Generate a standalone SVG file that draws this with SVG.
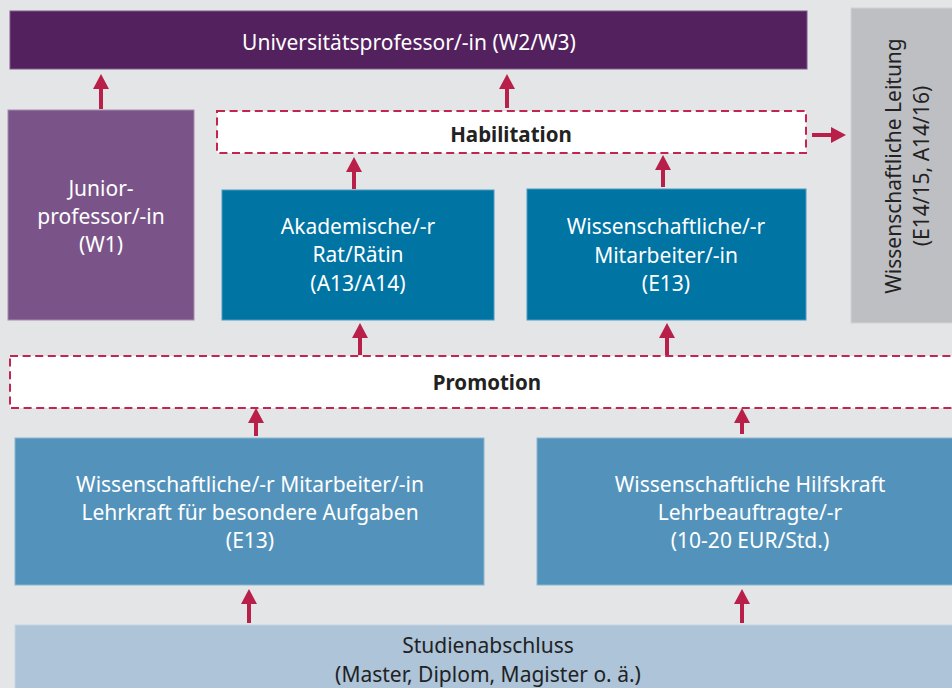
<svg xmlns="http://www.w3.org/2000/svg" width="952" height="688" viewBox="0 0 952 688">
  <style>
    .lbl { font-family: "Noto Sans", "Open Sans", sans-serif; font-size: 21px; text-anchor: middle; }
    .w { fill: #ffffff; }
    .d { fill: #222222; }
    .b { font-weight: bold; font-size: 20.5px; }
    .dash { fill: #ffffff; stroke: #c0264f; stroke-width: 2; stroke-dasharray: 8 4.6; }
    .arr { stroke: #b8204a; stroke-width: 4; fill: none; marker-end: url(#head); }
  </style>
  <defs>
    <marker id="head" viewBox="0 0 15 16" refX="3" refY="8" markerWidth="15" markerHeight="16" markerUnits="userSpaceOnUse" orient="auto">
      <path d="M0,0 L15,8 L0,16 z" fill="#b8204a"/>
    </marker>
  </defs>

  <rect width="952" height="688" fill="#e4e5e7"/>

  <g id="universitaetsprofessor">
    <rect x="10" y="11" width="797" height="58" fill="#54215f" stroke="#7d5a88" stroke-width="1"/>
    <text class="lbl w" x="409" y="50">Universitätsprofessor/-in (W2/W3)</text>
  </g>

  <g id="juniorprofessor">
    <rect x="8" y="110" width="186" height="210" fill="#7a5488" stroke="#a48cae" stroke-width="1"/>
    <text class="lbl w" x="101" y="196">Junior-</text>
    <text class="lbl w" x="101" y="224">professor/-in</text>
    <text class="lbl w" x="101" y="252">(W1)</text>
  </g>

  <g id="habilitation">
    <rect class="dash" x="217" y="111" width="589" height="42"/>
    <text class="lbl d b" x="511" y="142">Habilitation</text>
  </g>

  <g id="wissenschaftliche-leitung">
    <rect x="851" y="8" width="110" height="315" fill="#bebfc2" stroke="#d2d3d5" stroke-width="1"/>
    <g transform="translate(901,166) rotate(-90)">
      <text class="lbl d" x="0" y="0">Wissenschaftliche Leitung</text>
      <text class="lbl d" x="0" y="28">(E14/15, A14/16)</text>
    </g>
  </g>

  <g id="akademischer-rat">
    <rect x="222" y="190" width="272" height="130" fill="#0074a3" stroke="#4a9bc2" stroke-width="1"/>
    <text class="lbl w" x="358" y="234">Akademische/-r</text>
    <text class="lbl w" x="358" y="262">Rat/Rätin</text>
    <text class="lbl w" x="358" y="291">(A13/A14)</text>
  </g>

  <g id="wiss-mitarbeiter-e13">
    <rect x="527" y="189" width="279" height="131" fill="#0074a3" stroke="#4a9bc2" stroke-width="1"/>
    <text class="lbl w" x="666" y="234">Wissenschaftliche/-r</text>
    <text class="lbl w" x="666" y="263">Mitarbeiter/-in</text>
    <text class="lbl w" x="666" y="291">(E13)</text>
  </g>

  <g id="promotion">
    <rect class="dash" x="10" y="356" width="955" height="52"/>
    <text class="lbl d b" x="487" y="390">Promotion</text>
  </g>

  <g id="wiss-mitarbeiter-lehrkraft">
    <rect x="15" y="438" width="469" height="147" fill="#5393bb" stroke="#8ab6d2" stroke-width="1"/>
    <text class="lbl w" x="250" y="492">Wissenschaftliche/-r Mitarbeiter/-in</text>
    <text class="lbl w" x="250" y="520">Lehrkraft für besondere Aufgaben</text>
    <text class="lbl w" x="250" y="548">(E13)</text>
  </g>

  <g id="hilfskraft">
    <rect x="537" y="438" width="425" height="147" fill="#5393bb" stroke="#8ab6d2" stroke-width="1"/>
    <text class="lbl w" x="750" y="492">Wissenschaftliche Hilfskraft</text>
    <text class="lbl w" x="750" y="520">Lehrbeauftragte/-r</text>
    <text class="lbl w" x="750" y="548">(10-20 EUR/Std.)</text>
  </g>

  <g id="studienabschluss">
    <rect x="15" y="625" width="947" height="70" fill="#adc4d9" stroke="#c6d6e5" stroke-width="1"/>
    <text class="lbl d" x="488" y="653">Studienabschluss</text>
    <text class="lbl d" x="488" y="682">(Master, Diplom, Magister o. ä.)</text>
  </g>

  <g id="connectors">
    <line class="arr" x1="101" y1="109" x2="101" y2="86"/>
    <line class="arr" x1="507" y1="108" x2="507" y2="86"/>
    <line class="arr" x1="812" y1="135" x2="834" y2="135"/>
    <line class="arr" x1="354" y1="189" x2="354" y2="169"/>
    <line class="arr" x1="663" y1="187" x2="663" y2="167"/>
    <line class="arr" x1="360" y1="355" x2="360" y2="335"/>
    <line class="arr" x1="667" y1="355" x2="667" y2="335"/>
    <line class="arr" x1="256" y1="436" x2="256" y2="420"/>
    <line class="arr" x1="742" y1="434" x2="742" y2="420"/>
    <line class="arr" x1="249" y1="623" x2="249" y2="601"/>
    <line class="arr" x1="742" y1="623" x2="742" y2="601"/>
  </g>
</svg>
